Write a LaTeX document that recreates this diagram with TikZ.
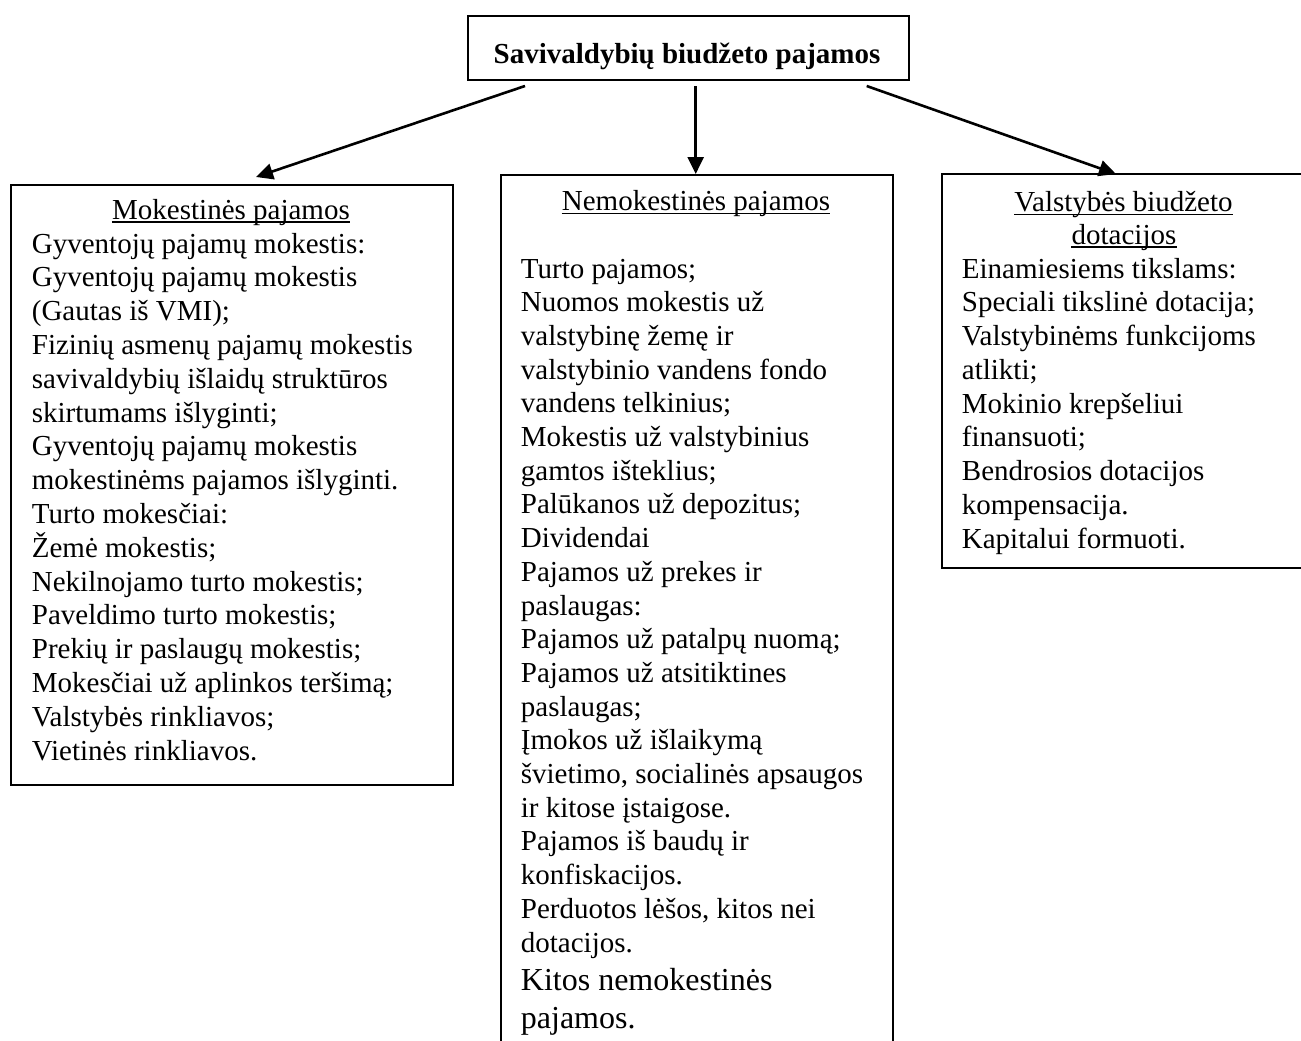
\documentclass[tikz,border=0pt]{standalone}
\usepackage{fontspec}
\setmainfont{Liberation Serif}
\usetikzlibrary{arrows.meta}
\tikzset{
  box/.style={draw=black, line width=2pt, inner sep=0pt, anchor=north west},
  txt/.style={anchor=base west, inner sep=0pt, font=\fontsize{29}{34}\selectfont},
  bigtxt/.style={anchor=base west, inner sep=0pt, font=\fontsize{32}{38}\selectfont},
  head/.style={anchor=base, inner sep=0pt, font=\fontsize{29}{34}\selectfont},
  uline/.style={line width=1.4pt},
  conn/.style={line width=2.6pt, -{Triangle[length=17pt,width=16pt]}}
}
\begin{document}
\begin{tikzpicture}[x=1pt,y=-1pt]
\useasboundingbox (0,0) rectangle (1301,1041);
\clip (0,0) rectangle (1301,1041);
% boxes
\node[box, minimum width=441pt, minimum height=64pt] (top) at (466.5,15) {};
\node[anchor=base, inner sep=0pt, font=\fontsize{29}{34}\selectfont\bfseries] (title) at (687,63.5) {Savivaldybių biudžeto pajamos};
\node[box, minimum width=442pt, minimum height=600pt] (L) at (10,183.5) {};
\node[box, minimum width=392pt, minimum height=900pt] (M) at (499.5,174) {};
\node[box, minimum width=400pt, minimum height=394pt] (R) at (940.5,173.3) {};
% connectors
\coordinate (sL) at (525,86);
\coordinate (sM) at (695.7,86);
\coordinate (sR) at (866.7,86);
\coordinate (eL) at (256,177);
\coordinate (eR) at (1116,174);
\draw[conn] (sL) -- (eL);
\draw[conn] (sM) -- (sM |- M.north);
\draw[conn] (sR) -- (eR);
% headings
\node[head] (hL) at (231,219) {Mokestinės pajamos};
\draw[uline] ([yshift=-2.8pt]hL.base west) -- ([yshift=-2.8pt]hL.base east);
\node[head] (hM) at (696,210.5) {Nemokestinės pajamos};
\draw[uline] ([yshift=-2.8pt]hM.base west) -- ([yshift=-2.8pt]hM.base east);
\node[head] (hR1) at (1123.5,211.5) {Valstybės biudžeto};
\draw[uline] ([yshift=-2.8pt]hR1.base west) -- ([yshift=-2.8pt]hR1.base east);
\node[head] (hR2) at (1124,244) {dotacijos};
\draw[uline] ([yshift=-2.8pt]hR2.base west) -- ([yshift=-2.8pt]hR2.base east);
% left text
\foreach \t [count=\i from 0] in {
  {Gyventojų pajamų mokestis:},
  {Gyventojų pajamų mokestis},
  {(Gautas iš VMI);},
  {Fizinių asmenų pajamų mokestis},
  {savivaldybių išlaidų struktūros},
  {skirtumams išlyginti;},
  {Gyventojų pajamų mokestis},
  {mokestinėms pajamos išlyginti.},
  {Turto mokesčiai:},
  {Žemė mokestis;},
  {Nekilnojamo turto mokestis;},
  {Paveldimo turto mokestis;},
  {Prekių ir paslaugų mokestis;},
  {Mokesčiai už aplinkos teršimą;},
  {Valstybės rinkliavos;},
  {Vietinės rinkliavos.}}
  \node[txt] (L\i) at (31.7,253+\i*33.8) {\t};
% middle text
\foreach \t [count=\i from 0] in {
  {Turto pajamos;},
  {Nuomos mokestis už},
  {valstybinę žemę ir},
  {valstybinio vandens fondo},
  {vandens telkinius;},
  {Mokestis už valstybinius},
  {gamtos išteklius;},
  {Palūkanos už depozitus;},
  {Dividendai},
  {Pajamos už prekes ir},
  {paslaugas:},
  {Pajamos už patalpų nuomą;},
  {Pajamos už atsitiktines},
  {paslaugas;},
  {Įmokos už išlaikymą},
  {švietimo, socialinės apsaugos},
  {ir kitose įstaigose.},
  {Pajamos iš baudų ir},
  {konfiskacijos.},
  {Perduotos lėšos, kitos nei},
  {dotacijos.}}
  \node[txt] (M\i) at (520.7,278+\i*33.7) {\t};
\node[bigtxt] (Mk1) at (520.7,990) {Kitos nemokestinės};
\node[bigtxt] (Mk2) at (520.7,1028) {pajamos.};
% right text
\foreach \t [count=\i from 0] in {
  {Einamiesiems tikslams:},
  {Speciali tikslinė dotacija;},
  {Valstybinėms funkcijoms},
  {atlikti;},
  {Mokinio krepšeliui},
  {finansuoti;},
  {Bendrosios dotacijos},
  {kompensacija.},
  {Kapitalui formuoti.}}
  \node[txt] (R\i) at (961.7,278+\i*33.75) {\t};
\end{tikzpicture}
\end{document}
